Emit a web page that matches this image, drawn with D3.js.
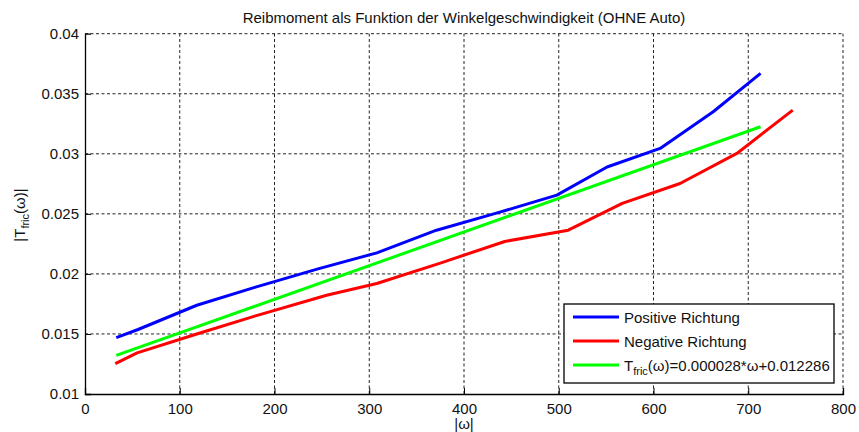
<!DOCTYPE html>
<html>
<head>
<meta charset="utf-8">
<script src="https://cdn.jsdelivr.net/npm/d3@7"></script>
<style>
body { margin: 0; background: #fff; }
svg { font-family: "Liberation Sans", Arial, sans-serif; }
</style>
</head>
<body>
<div id="container"></div>
<script>
const width = 859, height = 432;
const margin = {top: 33.7, right: 16, bottom: 38, left: 85};

// data
const posOmega = [33, 56, 118, 180, 245, 308, 371, 436, 498, 551, 607, 663, 713];
const posTorque = [0.0147, 0.01537, 0.01739, 0.0189, 0.0204, 0.02175, 0.02364, 0.0251, 0.02656, 0.0289, 0.03045, 0.0335, 0.0367];
const negOmega = [32, 55, 118, 180, 255, 308, 375, 443, 510, 567, 628, 688, 747];
const negTorque = [0.01253, 0.01342, 0.0150, 0.0165, 0.01822, 0.0192, 0.0209, 0.0227, 0.02364, 0.02587, 0.02753, 0.03003, 0.03364];
const fitOmega = [33, 713];
const fitTorque = [0.01321, 0.03225];
const xTicks = [0, 100, 200, 300, 400, 500, 600, 700, 800];
const yTicks = [0.01, 0.015, 0.02, 0.025, 0.03, 0.035, 0.04];

const svg = d3.select("#container").append("svg")
    .attr("width", width)
    .attr("height", height);

const x = d3.scaleLinear().domain([0, 800]).range([margin.left, width - margin.right]);
const y = d3.scaleLinear().domain([0.01, 0.04]).range([height - margin.bottom, margin.top]);

// grid
const grid = svg.append("g")
    .attr("stroke", "#222")
    .attr("stroke-width", 1)
    .attr("stroke-dasharray", "3,2.5");
grid.selectAll("line.vx").data(xTicks.slice(1)).enter().append("line")
    .attr("x1", d => x(d)).attr("x2", d => x(d))
    .attr("y1", y(0.01)).attr("y2", y(0.04));
grid.selectAll("line.hy").data(yTicks.slice(1)).enter().append("line")
    .attr("x1", x(0)).attr("x2", x(800))
    .attr("y1", d => y(d)).attr("y2", d => y(d));

// axes (MATLAB style: inward ticks)
const xAxis = svg.append("g")
    .attr("transform", `translate(0,${y(0.01)})`)
    .call(d3.axisBottom(x).tickValues(xTicks).tickSize(-6).tickPadding(9).tickFormat(d3.format("d")));
const yAxis = svg.append("g")
    .attr("transform", `translate(${x(0)},0)`)
    .call(d3.axisLeft(y).tickValues(yTicks).tickSize(-6).tickPadding(6).tickFormat(d => String(+d.toFixed(3))));
[xAxis, yAxis].forEach(a => {
    a.select(".domain").attr("stroke", "#000").attr("stroke-width", 1.3);
    a.selectAll(".tick line").attr("stroke", "#000");
    a.selectAll("text").attr("font-size", 15).attr("fill", "#111")
        .attr("font-family", "Liberation Sans, Arial, sans-serif");
});
// no ticks at the far ends on the grid-only sides
xAxis.selectAll(".tick").filter(d => d === 800).select("line").remove();
yAxis.selectAll(".tick").filter(d => d === 0.04).select("line").remove();

// lines
const line = d3.line().x(d => x(d[0])).y(d => y(d[1]));
const series = [
    {name: "pos", color: "#0000ff", pts: d3.zip(posOmega, posTorque)},
    {name: "neg", color: "#ff0000", pts: d3.zip(negOmega, negTorque)},
    {name: "fit", color: "#00ff00", pts: d3.zip(fitOmega, fitTorque)}
];
svg.append("g").selectAll("path").data(series).enter().append("path")
    .attr("d", d => line(d.pts))
    .attr("fill", "none")
    .attr("stroke", d => d.color)
    .attr("stroke-width", 3)
    .attr("stroke-linejoin", "round");

// title and labels
svg.append("text")
    .attr("x", (x(0) + x(800)) / 2).attr("y", 23)
    .attr("text-anchor", "middle").attr("font-size", 15).attr("fill", "#111")
    .text("Reibmoment als Funktion der Winkelgeschwindigkeit (OHNE Auto)");

svg.append("text")
    .attr("x", (x(0) + x(800)) / 2).attr("y", 429)
    .attr("text-anchor", "middle").attr("font-size", 15).attr("fill", "#111")
    .text("|ω|");

const yl = svg.append("text")
    .attr("transform", `translate(25,215) rotate(-90)`)
    .attr("text-anchor", "middle").attr("font-size", 15).attr("fill", "#111");
yl.append("tspan").text("|T");
yl.append("tspan").attr("font-size", 11).attr("dy", 4).text("fric");
yl.append("tspan").attr("dy", -4).text("(ω)|");

// legend
const lg = svg.append("g");
lg.append("rect")
    .attr("x", 564).attr("y", 304).attr("width", 270).attr("height", 79)
    .attr("fill", "#fff").attr("stroke", "#000").attr("stroke-width", 1.3);
const labels = ["Positive Richtung", "Negative Richtung", null];
const rows = lg.selectAll("g.row").data(series).enter().append("g")
    .attr("transform", (d, i) => `translate(0,${317 + i * 24})`);
rows.append("line")
    .attr("x1", 573).attr("x2", 619)
    .attr("stroke", d => d.color).attr("stroke-width", 3);
rows.each(function (d, i) {
    const t = d3.select(this).append("text")
        .attr("x", 624).attr("y", 5.5).attr("font-size", 15).attr("fill", "#111");
    if (labels[i]) {
        t.text(labels[i]);
    } else {
        t.append("tspan").text("T");
        t.append("tspan").attr("font-size", 11).attr("dy", 4).text("fric");
        t.append("tspan").attr("dy", -4).text("(ω)=0.000028*ω+0.012286");
    }
});
</script>
</body>
</html>
